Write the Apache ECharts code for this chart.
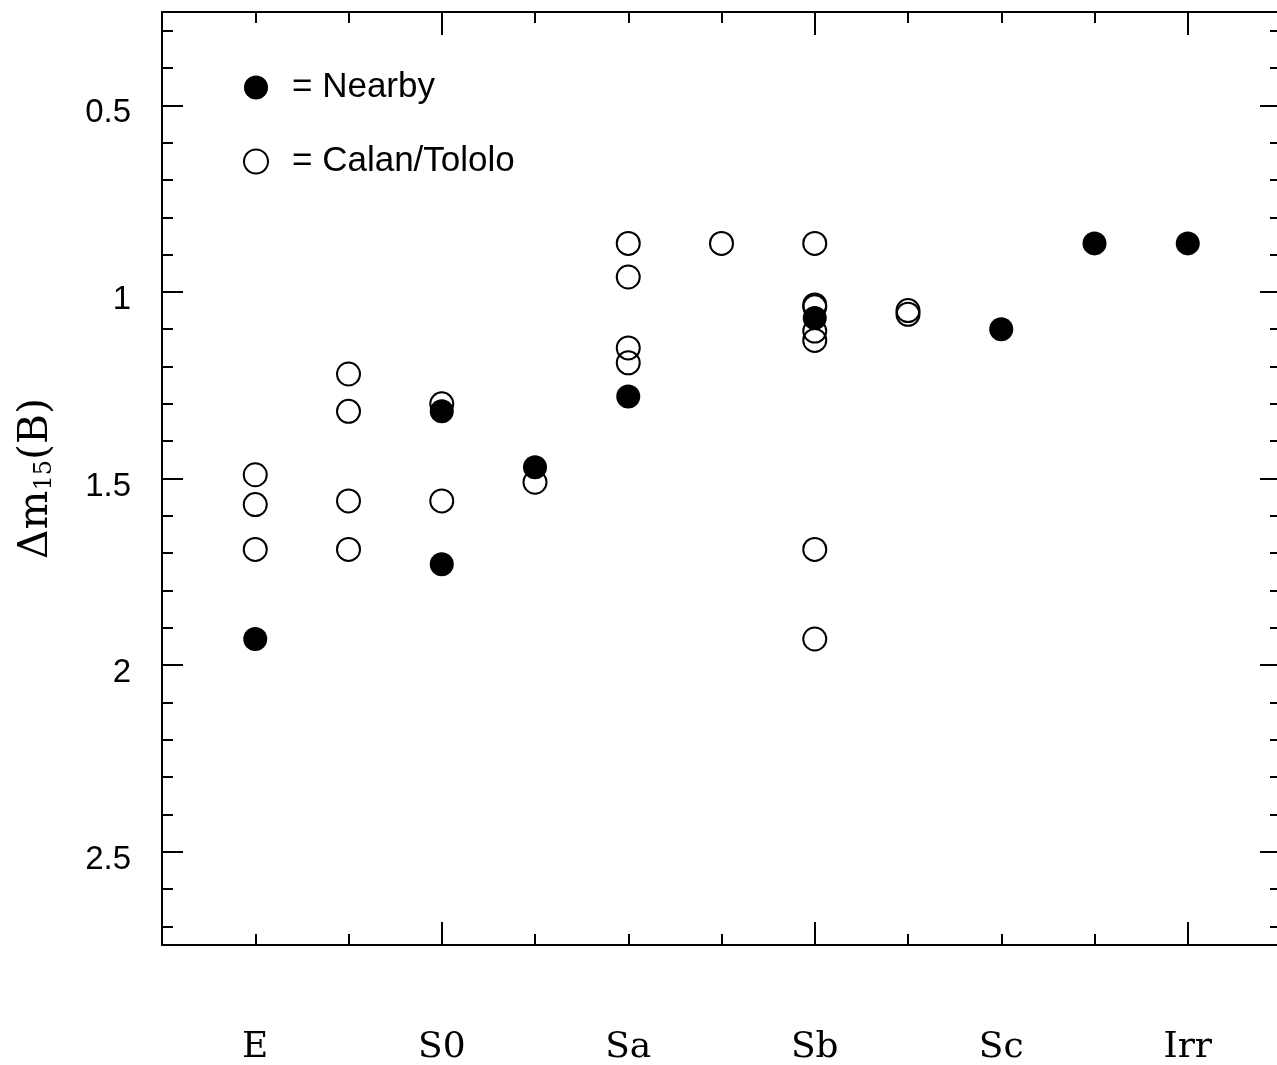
<!DOCTYPE html>
<html>
<head>
	<meta charset="utf-8" />
	<title>Δm15(B) vs host type</title>
	<script src="https://cdn.jsdelivr.net/npm/echarts@6/dist/echarts.min.js"></script>
</head>
<body style="margin:0;background:#fff;">
	<div id="main" style="width: 1277px;height: 1065px;"></div>
	<script type="text/javascript">

		// host galaxy types and where they sit on the x axis
		var typeNames = ['E', 'S0', 'Sa', 'Sb', 'Sc', 'Irr'];
		var typePos = [0, 2, 4, 6, 8, 10];
		var xTicks = [0, 1, 2, 3, 4, 5, 6, 7, 8, 9, 10];
		var xMajorTicks = [2, 6, 10];

		var yLabels = [0.5, 1, 1.5, 2, 2.5];
		var yMinorTicks = [0.3, 0.4, 0.5, 0.6, 0.7, 0.8, 0.9, 1.0, 1.1, 1.2, 1.3, 1.4, 1.5,
			1.6, 1.7, 1.8, 1.9, 2.0, 2.1, 2.2, 2.3, 2.4, 2.5, 2.6, 2.7];

		// Nearby (filled)
		var nearbyX = [0, 2, 2, 3, 4, 6, 8, 9, 10];
		var nearbyY = [1.93, 1.32, 1.73, 1.47, 1.28, 1.07, 1.10, 0.87, 0.87];

		// Calan/Tololo (open)
		var calanX = [0, 0, 0, 1, 1, 1, 1, 2, 2, 3, 4, 4, 4, 4, 5, 6, 6, 6, 6, 6, 6, 6, 7, 7];
		var calanY = [1.49, 1.57, 1.69, 1.22, 1.32, 1.56, 1.69, 1.30, 1.56, 1.51,
			0.87, 0.96, 1.15, 1.19, 0.87, 0.87, 1.035, 1.04, 1.105, 1.13, 1.69, 1.93, 1.05, 1.06];

		function pairs(xs, ys) {
			var out = [];
			for (var i = 0; i < xs.length; i++) out.push([xs[i], ys[i]]);
			return out;
		}

		var myChart = echarts.init(document.getElementById("main"), null, {renderer: 'canvas'});

		var lineStyle = {color: '#000', width: 2};

		function xAx(pos, ticks, len, withLine, withLabel) {
			return {
				type: 'value', position: pos, min: -1, max: 11,
				axisLine: {show: withLine, onZero: false, lineStyle: lineStyle},
				axisTick: {show: true, inside: true, length: len, customValues: ticks, lineStyle: lineStyle},
				axisLabel: withLabel ? {
					show: true, customValues: typePos, margin: 85,
					fontFamily: 'DejaVu Serif', fontSize: 36, color: '#000',
					formatter: function (v) { return typeNames[typePos.indexOf(v)]; }
				} : {show: false},
				splitLine: {show: false}
			};
		}

		function yAx(pos, ticks, len, withLine, withLabel) {
			var ax = {
				type: 'value', position: pos, min: 0.25, max: 2.75, inverse: true,
				axisLine: {show: withLine, onZero: false, lineStyle: lineStyle},
				axisTick: {show: true, inside: true, length: len, customValues: ticks, lineStyle: lineStyle},
				axisLabel: withLabel ? {
					show: true, customValues: yLabels, margin: 31,
					fontFamily: 'Liberation Sans', fontSize: 33, color: '#000',
					verticalAlign: 'top', lineHeight: 16
				} : {show: false},
				splitLine: {show: false}
			};
			if (withLabel) {
				ax.name = '{a|Δm}{s|15}{a|(B)}';
				ax.nameLocation = 'middle';
				ax.nameRotate = 90;
				ax.nameGap = 105;
				ax.nameTextStyle = {
					rich: {
						a: {fontFamily: 'DejaVu Serif', fontSize: 41, color: '#000'},
						s: {fontFamily: 'DejaVu Serif', fontSize: 24, color: '#000', padding: [16, 0, 0, 0]}
					}
				};
			}
			return ax;
		}

		var option = {
			animation: false,
			backgroundColor: '#fff',
			grid: {left: 162, top: 12, width: 1119, height: 933, outerBoundsMode: 'none', containLabel: false},
			legend: {
				orient: 'vertical', left: 238, top: 65, itemGap: 39,
				itemWidth: 24, itemHeight: 24,
				data: [{name: 'Nearby', icon: 'circle'}, {name: 'Calan/Tololo', icon: 'circle'}],
				formatter: '= {name}',
				textStyle: {fontFamily: 'Liberation Sans', fontSize: 35, color: '#000', padding: [0, 0, 0, 19]}
			},
			xAxis: [
				xAx('bottom', xTicks, 11, true, true),
				xAx('bottom', xMajorTicks, 23, false, false),
				xAx('top', xTicks, 11, true, false),
				xAx('top', xMajorTicks, 23, false, false)
			],
			yAxis: [
				yAx('left', yMinorTicks, 11, true, true),
				yAx('left', yLabels, 21, false, false),
				yAx('right', yMinorTicks, 11, true, false),
				yAx('right', yLabels, 21, false, false)
			],
			series: [
				{
					name: 'Calan/Tololo', type: 'scatter', symbol: 'circle', symbolSize: 23,
					xAxisIndex: 0, yAxisIndex: 0,
					itemStyle: {color: 'rgba(0,0,0,0)', borderColor: '#000', borderWidth: 2, opacity: 1},
					data: pairs(calanX, calanY)
				},
				{
					name: 'Nearby', type: 'scatter', symbol: 'circle', symbolSize: 24,
					xAxisIndex: 0, yAxisIndex: 0,
					itemStyle: {color: '#000', opacity: 1},
					data: pairs(nearbyX, nearbyY)
				}
			]
		};

		myChart.setOption(option);

	</script>
</body>
</html>
